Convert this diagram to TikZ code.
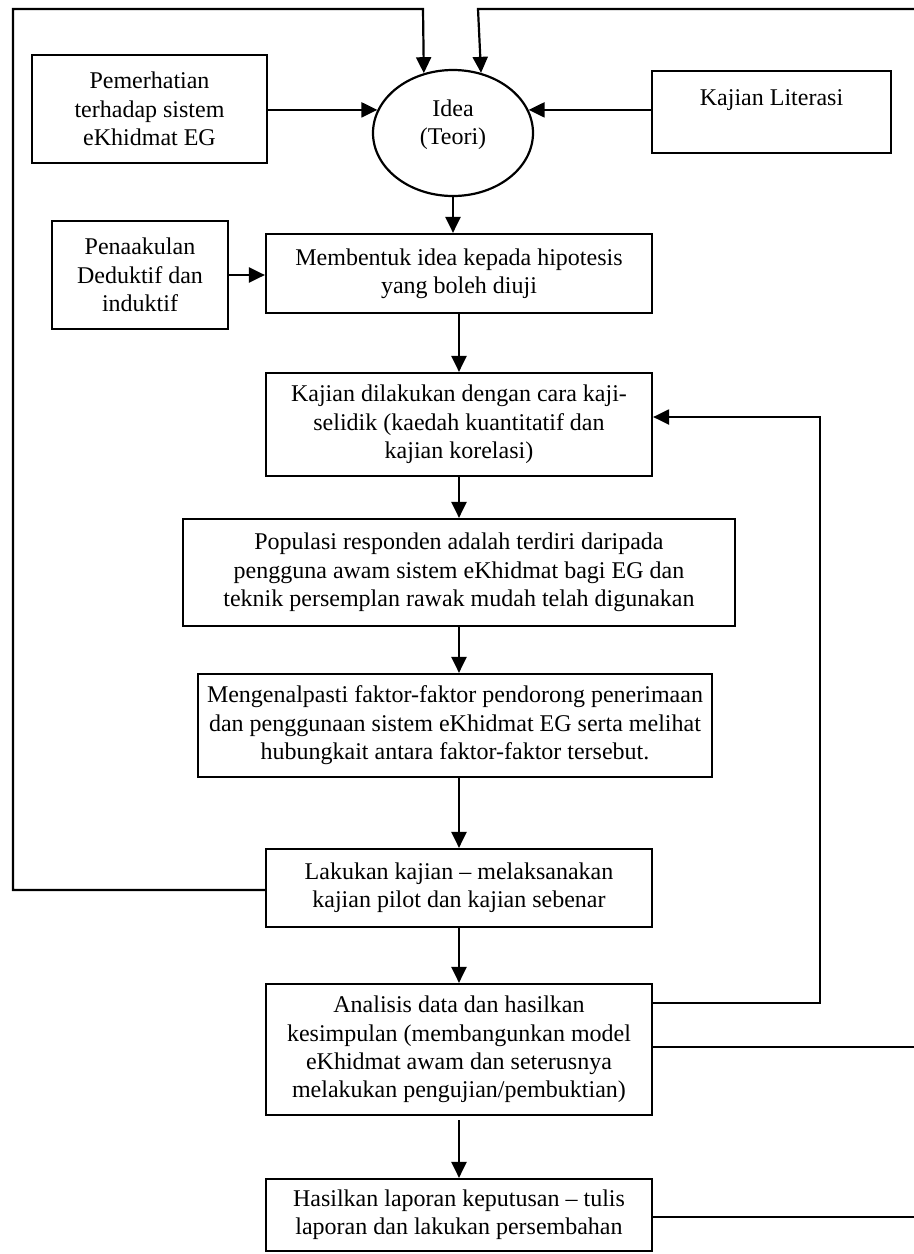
\documentclass[tikz,border=0pt]{standalone}
\usepackage{fontspec}
\setmainfont{Liberation Serif}
\usetikzlibrary{arrows.meta,shapes.geometric}
\tikzset{
  txt/.style={align=center, font=\fontsize{12pt}{14.2pt}\selectfont},
  boxnode/.style={txt, draw, line width=1.1pt, rectangle, inner sep=2pt},
  ovalnode/.style={draw, line width=1.1pt, ellipse, inner sep=0pt},
  link/.style={line width=1.1pt},
  arr/.style={line width=1.1pt, -{Triangle[length=8pt,width=7.5pt]}}
}
\begin{document}
\begin{tikzpicture}[x=0.5pt,y=-0.5pt]
\useasboundingbox (0,0) rectangle (914,1254);

\node[boxnode, minimum width=117.5pt, minimum height=54pt] (pem) at (149.5,109)
  {Pemerhatian\\terhadap sistem\\eKhidmat EG};
\node[ovalnode, minimum width=80pt, minimum height=63pt] (idea) at (453,133) {};
\node[txt] (ideatext) at (453,125) {Idea\\(Teori)};
\node[boxnode, minimum width=119.5pt, minimum height=41pt] (lit) at (771.5,112)
  {Kajian Literasi\\\mbox{}};
\node[boxnode, minimum width=88pt, minimum height=54pt] (pen) at (140,275)
  {Penaakulan\\Deduktif dan\\induktif};
\node[boxnode, minimum width=193pt, minimum height=39.5pt] (memb) at (459,273.5)
  {Membentuk idea kepada hipotesis\\yang boleh diuji};
\node[boxnode, minimum width=193pt, minimum height=51.5pt] (kaj) at (459,424.5)
  {Kajian dilakukan dengan cara kaji-\\selidik (kaedah kuantitatif dan\\kajian korelasi)};
\node[boxnode, minimum width=276pt, minimum height=53.5pt] (pop) at (459,572.5)
  {Populasi responden adalah terdiri daripada\\pengguna awam sistem eKhidmat bagi EG dan\\teknik persemplan rawak mudah telah digunakan};
\node[boxnode, inner sep=1pt, minimum width=257pt, minimum height=51.5pt] (men) at (455,725.5)
  {Mengenalpasti faktor-faktor pendorong penerimaan\\dan penggunaan sistem eKhidmat EG serta melihat\\hubungkait antara faktor-faktor tersebut.};
\node[boxnode, minimum width=193pt, minimum height=39pt] (lak) at (459,888)
  {Lakukan kajian -- melaksanakan\\kajian pilot dan kajian sebenar};
\node[boxnode, minimum width=193pt, minimum height=65.5pt] (ana) at (459,1049.5)
  {Analisis data dan hasilkan\\kesimpulan (membangunkan model\\eKhidmat awam dan seterusnya\\melakukan pengujian/pembuktian)};
\node[boxnode, minimum width=193pt, minimum height=36pt] (has) at (459,1215)
  {Hasilkan laporan keputusan -- tulis\\laporan dan lakukan persembahan};

% side inputs into the idea
\draw[arr] (pem.east |- idea.163) -- (idea.163);
\draw[arr] (lit.west |- idea.17) -- (idea.17);
\draw[arr] (pen.east) -- (memb.west |- pen.east);

% main chain
\draw[arr] (idea.south) -- (idea.south |- memb.north);
\draw[arr] (memb.south) -- (kaj.north);
\draw[arr] (kaj.south) -- (pop.north);
\draw[arr] (pop.south) -- (pop.south |- men.north);
\draw[arr] (lak.north |- men.south) -- (lak.north);
\draw[arr] (lak.south) -- (ana.north);
\draw[arr, shorten <=2pt] (ana.south) -- (has.north);

% feedback loop from Lakukan to the idea (left)
\coordinate (lbot) at (13,890);
\coordinate (ltop) at (13,9);
\coordinate (lin) at (423,9);
\draw[arr] (lak.west |- lbot) -- (lbot) -- (ltop) -- (lin) -- (idea.116);

% feedback to the idea from the right edge
\coordinate (rtop) at (914,9);
\coordinate (rin) at (478,9);
\draw[arr] (rtop) -- (rin) -- (idea.65);

% feedback loop from Analisis to Kajian
\coordinate (fbbot) at (820,1003);
\coordinate (fbtop) at (820,417);
\draw[arr] (ana.east |- fbbot) -- (fbbot) -- (fbtop) -- (kaj.east |- fbtop);

% lines leaving to the right edge
\coordinate (re1) at (914,1047);
\coordinate (re2) at (914,1217);
\draw[link] (ana.east |- re1) -- (re1);
\draw[link] (has.east |- re2) -- (re2);
\end{tikzpicture}
\end{document}
